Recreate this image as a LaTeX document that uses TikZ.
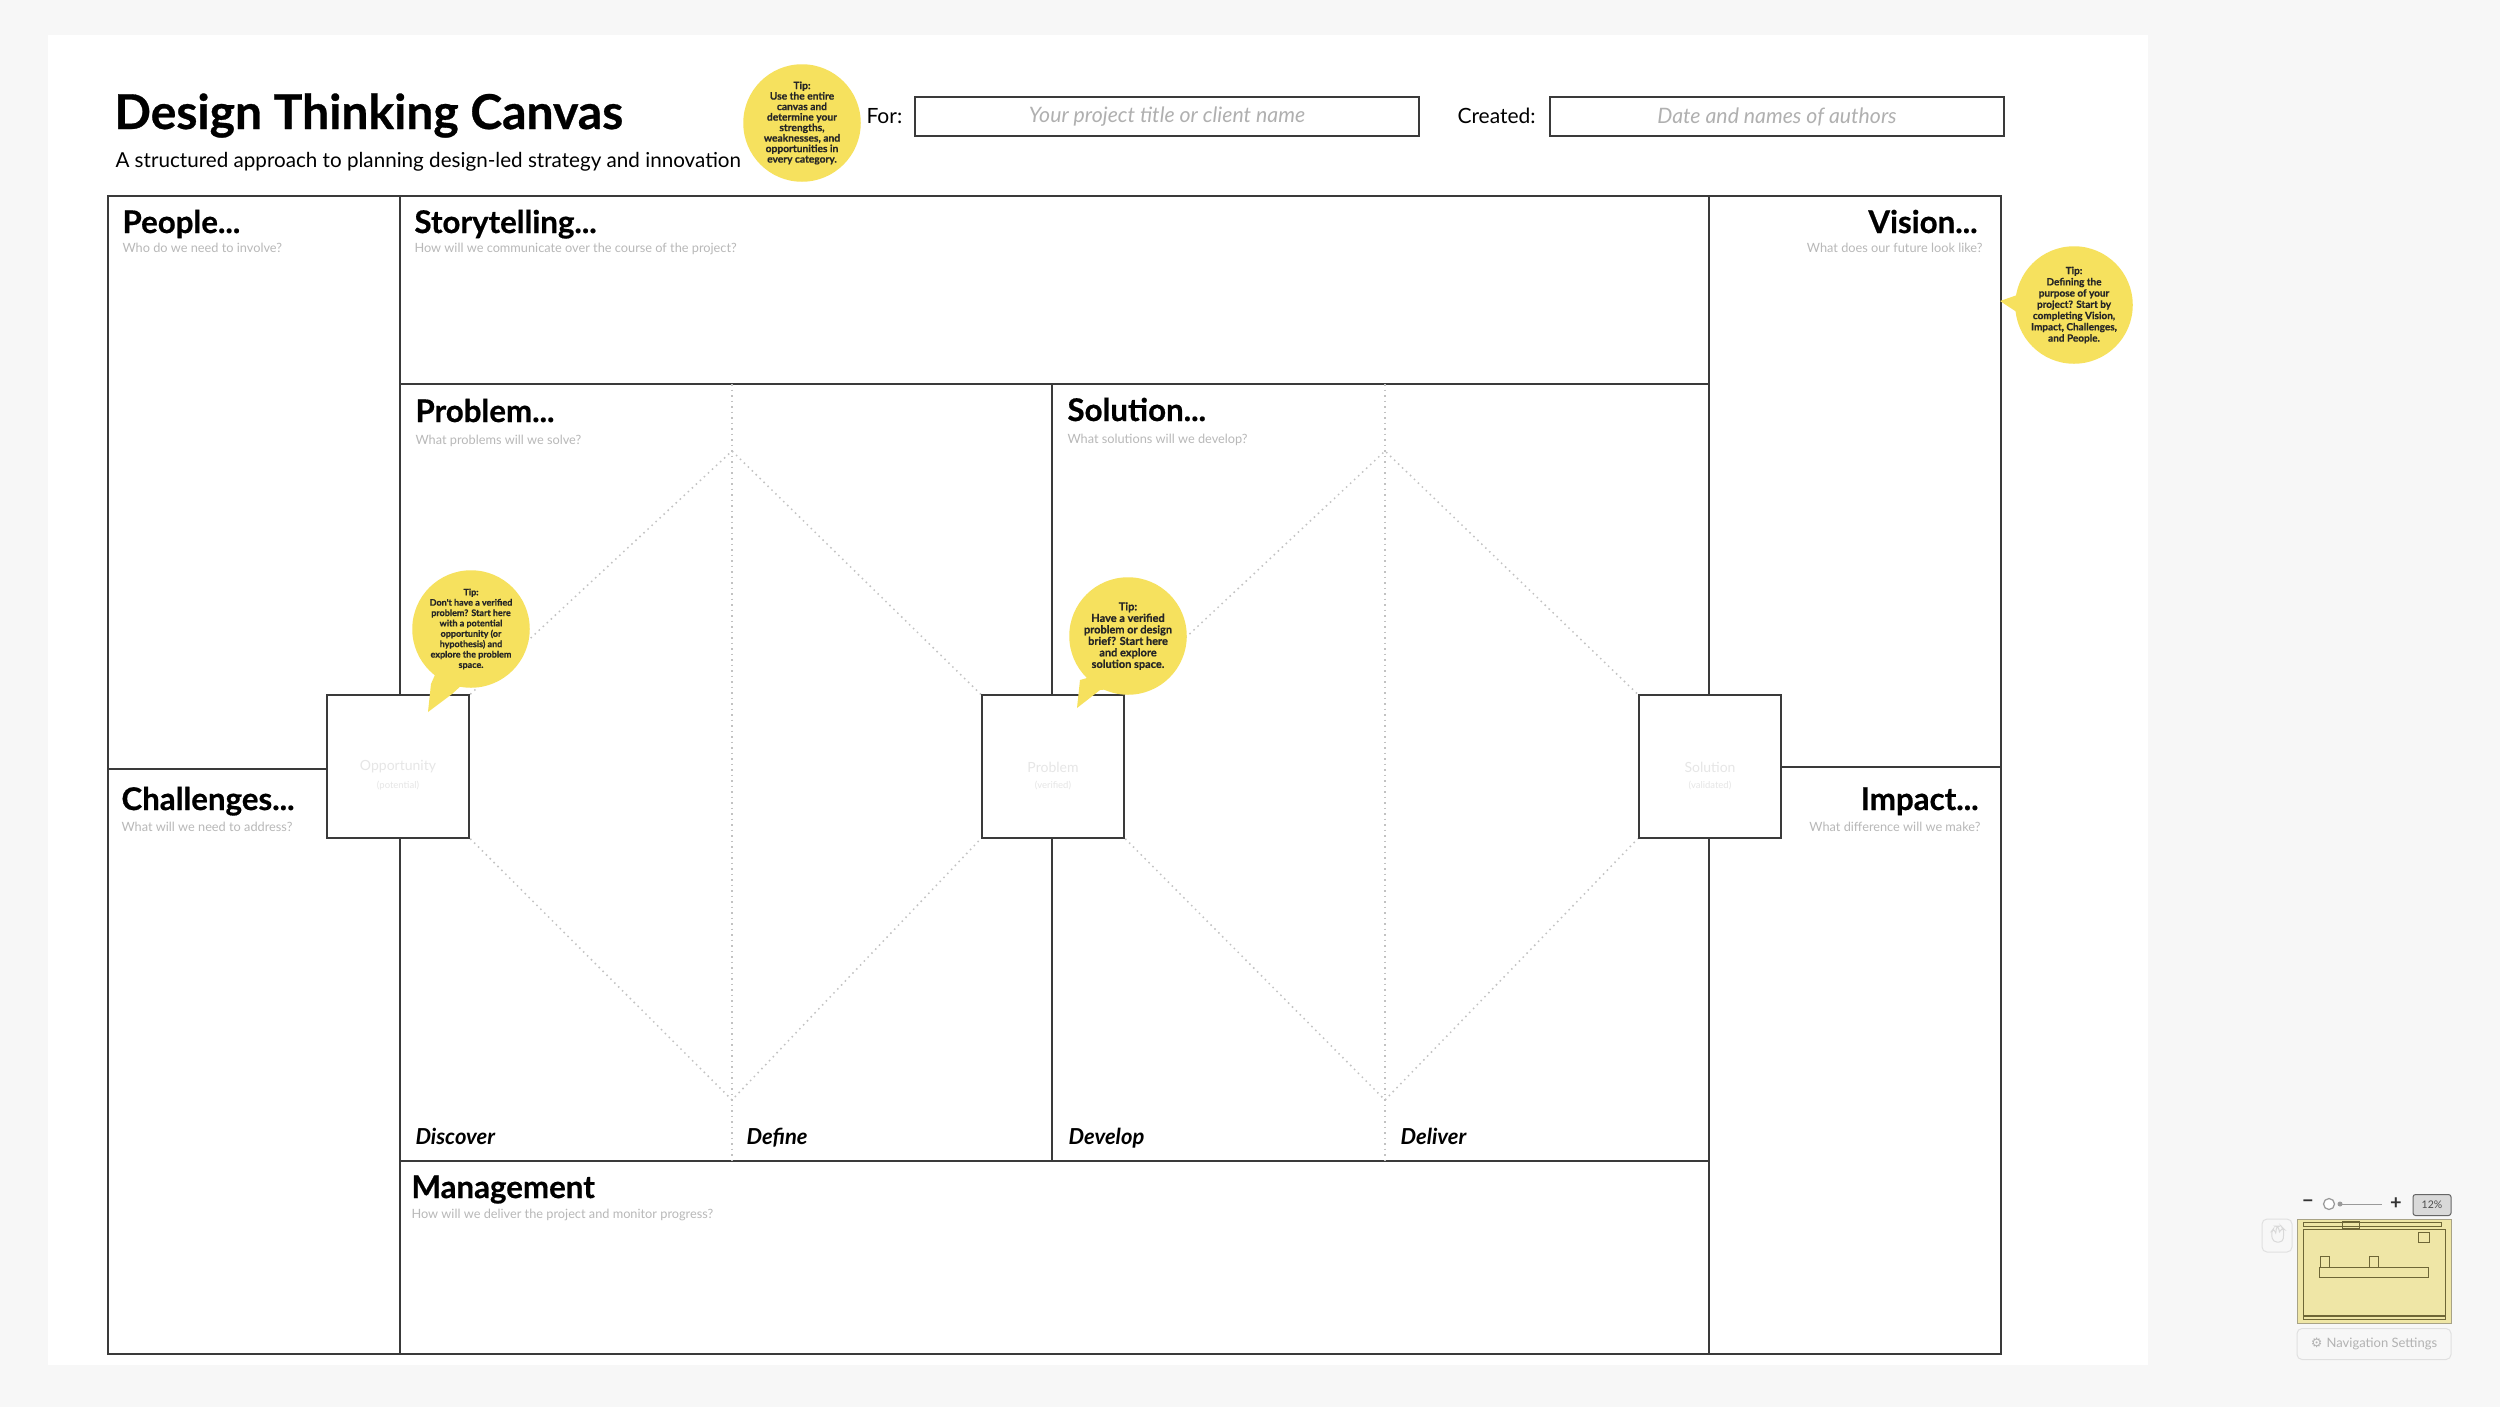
\documentclass[tikz,border=0pt]{standalone}
\usepackage{fontspec}
\setmainfont{Lato}
\newfontfamily\headfont{Lato}[BoldFeatures={FakeBold=0.6}]
\usetikzlibrary{calc}
\definecolor{bggray}{HTML}{F7F7F7}
\definecolor{framec}{HTML}{3A3A3A}
\definecolor{subgray}{HTML}{B8B8B8}
\definecolor{ghost}{HTML}{E6E6E6}
\definecolor{dotc}{HTML}{C2C2C2}
\definecolor{tipy}{HTML}{F6E15E}
\definecolor{mapy}{HTML}{EFE6A6}
\definecolor{mapline}{HTML}{6E6636}
\definecolor{phgray}{HTML}{B0B0B0}
\definecolor{navgray}{HTML}{9A9A9A}
\begin{document}
\begin{tikzpicture}[x=0.4pt,y=-0.4pt,
  frame/.style={draw=framec,line width=0.8pt},
  dotline/.style={draw=dotc,line width=0.6pt,dash pattern=on 0.6pt off 1.6pt},
  head/.style={inner sep=0pt,font=\fontsize{12.5}{14}\selectfont\headfont\bfseries,text=black},
  sub/.style={inner sep=0pt,font=\fontsize{5.1}{6}\selectfont,text=subgray},
  phase/.style={inner sep=0pt,font=\fontsize{8.8}{10}\selectfont\bfseries\itshape,text=black},
  tip/.style={circle,fill=tipy,inner sep=0pt,minimum size=47pt,align=center,text=black!85},
  sq/.style={draw=framec,line width=0.8pt,fill=white,minimum size=57pt,inner sep=0pt},
  ghostt/.style={inner sep=0pt,text=ghost},
  phbox/.style={draw=framec,line width=0.8pt,inner sep=0pt,
    font=\fontsize{8.5}{10}\selectfont\itshape,text=phgray},
  lab/.style={inner sep=0pt,font=\fontsize{8.4}{10}\selectfont,text=black},
  navt/.style={inner sep=0pt,text=navgray}]
\useasboundingbox (0,0) rectangle (2500,1407);
\fill[bggray] (0,0) rectangle (2500,1407);
\fill[white] (48,35) rectangle (2148,1365);

% title block
\node[inner sep=0pt,anchor=base west,font=\fontsize{19.2}{22}\selectfont\headfont\bfseries] (title) at (114,129) {Design Thinking Canvas};
\node[inner sep=0pt,anchor=base west,font=\fontsize{8.25}{10}\selectfont] (subtitle) at (115,167) {A structured approach to planning design-led strategy and innovation};
\node[lab,anchor=base west] (forl) at (866,123) {For:};
\node[phbox,minimum width=201.6pt,minimum height=15.6pt] (forbox) at (1167,116.5) {Your project title or client name};
\node[lab,anchor=base west] (createdl) at (1457,123) {Created:};
\node[phbox,minimum width=181.6pt,minimum height=15.6pt] (createdbox) at (1777,116.5) {Date and names of authors};

% frame
\draw[frame] (108,196) rectangle (2001,1354);
\draw[frame] (400,196) -- (400,695);
\draw[frame] (400,838) -- (400,1354);
\draw[frame] (1709,196) -- (1709,695);
\draw[frame] (1709,838) -- (1709,1354);
\draw[frame] (400,384) -- (1709,384);
\draw[frame] (400,1161) -- (1709,1161);
\draw[frame] (1052,384) -- (1052,695);
\draw[frame] (1052,838) -- (1052,1161);
\draw[frame] (108,769) -- (327,769);
\draw[frame] (1782,767) -- (2001,767);

% dotted guides
\draw[dotline] (732,384) -- (732,1161);
\draw[dotline] (1385,384) -- (1385,1161);

% squares
\node[sq] (opp) at (398,766.5) {};
\node[sq] (prob) at (1053,766.5) {};
\node[sq] (sol) at (1710,766.5) {};
\node[ghostt,font=\fontsize{5.6}{7}\selectfont] at (398,767) {Opportunity};
\node[ghostt,font=\fontsize{3.8}{5}\selectfont] at (398,786) {(potential)};
\node[ghostt,font=\fontsize{5.6}{7}\selectfont] at (1053,767) {Problem};
\node[ghostt,font=\fontsize{3.8}{5}\selectfont] at (1053,786) {(verified)};
\node[ghostt,font=\fontsize{5.6}{7}\selectfont] at (1710,767) {Solution};
\node[ghostt,font=\fontsize{3.8}{5}\selectfont] at (1710,786) {(validated)};

% diamonds
\coordinate (ap1) at (732,451);
\coordinate (bp1) at (732,1100);
\coordinate (ap2) at (1385,451);
\coordinate (bp2) at (1385,1100);
\draw[dotline] (opp.north east) -- (ap1) -- (prob.north west);
\draw[dotline] (opp.south east) -- (bp1) -- (prob.south west);
\draw[dotline] (prob.north east) -- (ap2) -- (sol.north west);
\draw[dotline] (prob.south east) -- (bp2) -- (sol.south west);

% headings
\node[head,anchor=base west] (people) at (122,233) {People...};
\node[sub,anchor=base west] (peoples) at (122,252) {Who do we need to involve?};
\node[head,anchor=base west] (story) at (414,233) {Storytelling...};
\node[sub,anchor=base west] (storys) at (414,252) {How will we communicate over the course of the project?};
\node[head,anchor=base east] (vision) at (1978,233) {Vision...};
\node[sub,anchor=base east] (visions) at (1983,252) {What does our future look like?};
\node[head,anchor=base west] (problem) at (415,422) {Problem...};
\node[sub,anchor=base west] (problems) at (415,444) {What problems will we solve?};
\node[head,anchor=base west] (solution) at (1067,421) {Solution...};
\node[sub,anchor=base west] (solutions) at (1067,443) {What solutions will we develop?};
\node[head,anchor=base west] (chall) at (121,810) {Challenges...};
\node[sub,anchor=base west] (challs) at (121,831) {What will we need to address?};
\node[head,anchor=base east] (impact) at (1979,810) {Impact...};
\node[sub,anchor=base east] (impacts) at (1981,831) {What difference will we make?};
\node[head,anchor=base west] (mgmt) at (411,1198) {Management};
\node[sub,anchor=base west] (mgmts) at (411,1218) {How will we deliver the project and monitor progress?};

% phases
\node[phase,anchor=base west] (disc) at (415,1144) {Discover};
\node[phase,anchor=base west] (defi) at (746,1144) {Define};
\node[phase,anchor=base west] (deve) at (1068,1144) {Develop};
\node[phase,anchor=base west] (deli) at (1400,1144) {Deliver};

% tips
\coordinate (c2) at (2074,305);
\coordinate (c3) at (471,629);
\coordinate (c4) at (1128,636);
\fill[tipy] ($(c2)+(165:50)$) -- (2000,301) -- ($(c2)+(195:50)$) -- cycle;
\fill[tipy] ($(c3)+(95:52)$) -- (452,694) -- (428,712) -- (431,684) -- ($(c3)+(130:52)$) -- cycle;
\fill[tipy] ($(c4)+(95:52)$) -- (1100,690) -- (1077,708) -- (1080,680) -- ($(c4)+(130:52)$) -- cycle;
\node[tip,font=\fontsize{4.1}{4.2}\selectfont\headfont\bfseries] (t1) at (802,123) {Tip:\\Use the entire\\canvas and\\determine your\\strengths,\\weaknesses, and\\opportunities in\\every category.};
\node[tip,font=\fontsize{4}{4.5}\selectfont\headfont\bfseries] (t2) at (c2) {Tip:\\Defining the\\purpose of your\\project? Start by\\completing Vision,\\Impact, Challenges,\\and People.};
\node[tip,font=\fontsize{3.6}{4.15}\selectfont\headfont\bfseries] (t3) at (c3) {Tip:\\Don't have a verified\\problem? Start here\\with a potential\\opportunity (or\\hypothesis) and\\explore the problem\\space.};
\node[tip,font=\fontsize{4.4}{4.6}\selectfont\headfont\bfseries] (t4) at (c4) {Tip:\\Have a verified\\problem or design\\brief? Start here\\and explore\\solution space.};

% navigation widget
\node[navt,font=\fontsize{8}{8}\selectfont\bfseries,text=black!80] (navminus) at (2308,1204) {−};
\draw[navgray,line width=0.4pt] (2340,1204) -- (2382,1204);
\draw[navgray,line width=0.5pt,fill=white] (2329,1204) circle (5.5);
\fill[navgray] (2340,1204) circle (2.5);
\node[navt,font=\fontsize{8}{8}\selectfont\bfseries,text=black!80] (navplus) at (2396,1204) {+};
\node[draw=black!60,fill=black!15,rounded corners=1pt,minimum width=15.2pt,minimum height=8.4pt,inner sep=0pt,font=\fontsize{4.2}{5}\selectfont,text=black!70] (zoomp) at (2432,1205) {12\%};
\draw[black!12,line width=0.4pt,rounded corners=2pt] (2262,1219) rectangle (2292,1252);
\draw[black!15,line width=0.4pt,rounded corners=1.5pt] (2273,1242) -- (2271,1232) -- (2274,1228) -- (2276,1235) -- (2276,1226) -- (2279,1226) -- (2279,1234) -- (2282,1227) -- (2284,1229) -- (2283,1242) -- cycle;
\fill[mapy] (2297,1219) rectangle (2451,1323);
\draw[mapline!60,line width=0.4pt] (2297,1219) rectangle (2451,1323);
\draw[mapline,line width=0.4pt] (2303,1229) rectangle (2445,1319);
\draw[mapline,line width=0.4pt] (2303,1222) rectangle (2441,1226);
\draw[mapline,line width=0.4pt] (2342,1221) rectangle (2359,1228);
\draw[mapline,line width=0.4pt] (2418,1232) rectangle (2429,1242);
\draw[mapline,line width=0.4pt] (2320,1256) rectangle (2329,1267);
\draw[mapline,line width=0.4pt] (2369,1256) rectangle (2378,1267);
\draw[mapline,line width=0.4pt] (2319,1267) rectangle (2428,1277);
\draw[mapline,line width=0.6pt] (2303,1316) -- (2445,1316);
\node[draw=black!12,rounded corners=2pt,minimum width=61.6pt,minimum height=12.4pt,inner sep=0pt,font=\fontsize{5.2}{6}\selectfont,text=black!30] (navset) at (2374,1344) {\fontspec{DejaVu Sans}⚙\ \fontspec{Lato}Navigation Settings};
\end{tikzpicture}
\end{document}
